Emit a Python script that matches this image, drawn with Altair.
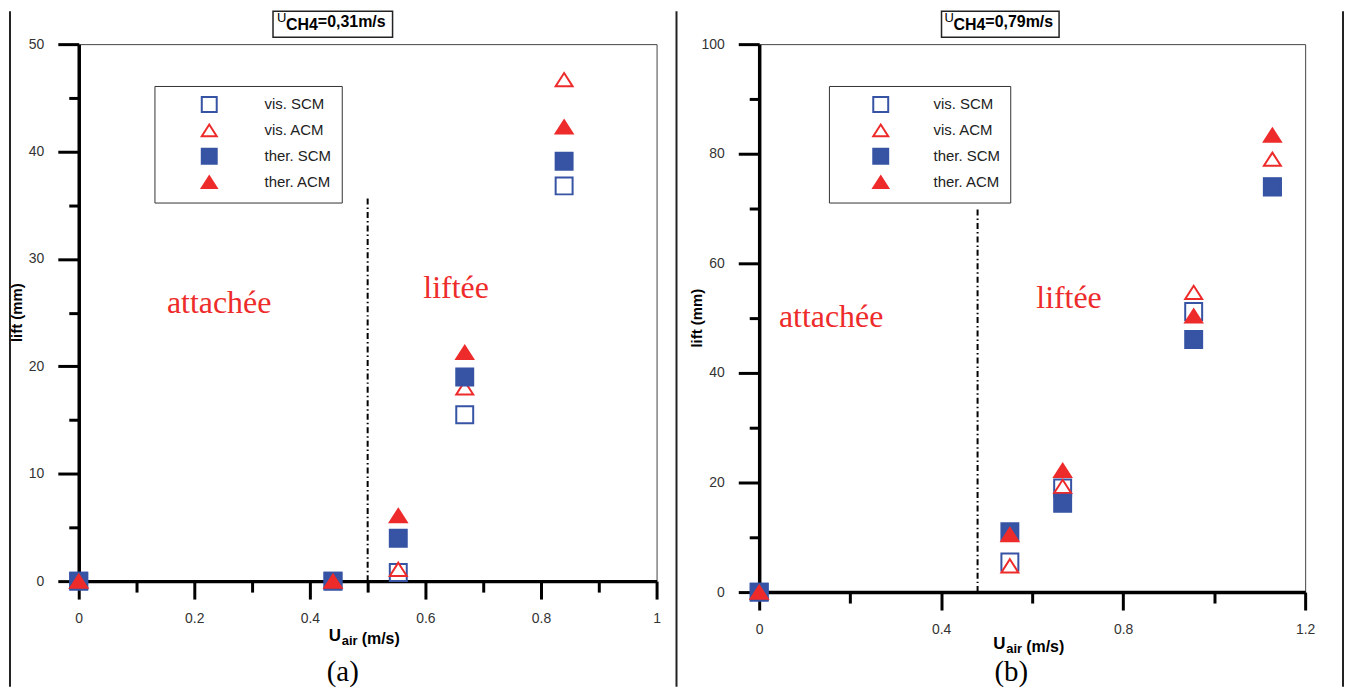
import json
import altair as alt
import pandas as pd

SERIES = ["vis. SCM", "vis. ACM", "ther. SCM", "ther. ACM"]
BLUE = "#3653A4"
RED = "#EE2B2B"
SQ = "square"
TRI = "M0,-0.78L1,0.78L-1,0.78Z"

# ---- panel (a) : U_CH4 = 0.31 m/s
xa = [0, 0.44, 0.553, 0.668, 0.840]
vis_scm_a = [0, 0, 0.8, 15.5, 36.8]
vis_acm_a = [0, 0, 1.1, 18.0, 46.7]
ther_scm_a = [0, 0, 4.0, 19.0, 39.1]
ther_acm_a = [0, 0, 6.1, 21.3, 42.3]
xticks_a = [0, 0.1, 0.2, 0.3, 0.4, 0.5, 0.6, 0.7, 0.8, 0.9, 1]
xlabels_a = [0, 0.2, 0.4, 0.6, 0.8, 1]
yticks_a = [0, 5, 10, 15, 20, 25, 30, 35, 40, 45, 50]
ylabels_a = [0, 10, 20, 30, 40, 50]
limit_a = [0.5, 0, 35.8]          # x, y-start, y-end of the dash-dot separator
notes_a = [["attachée", 0.243, 25.0], ["liftée", 0.653, 26.4]]

# ---- panel (b) : U_CH4 = 0.79 m/s
xb = [0, 0.551, 0.667, 0.955, 1.128]
vis_scm_b = [0, 5.5, 19.0, 51.2, 74.0]
vis_acm_b = [0, 4.8, 19.3, 54.7, 79.0]
ther_scm_b = [0, 11.0, 16.2, 46.1, 73.9]
ther_acm_b = [0, 10.5, 22.2, 50.4, 83.4]
xticks_b = [0, 0.2, 0.4, 0.6, 0.8, 1, 1.2]
xlabels_b = [0, 0.4, 0.8, 1.2]
yticks_b = [0, 10, 20, 30, 40, 50, 60, 70, 80, 90, 100]
ylabels_b = [0, 20, 40, 60, 80, 100]
limit_b = [0.48, 0, 70.0]
notes_b = [["attachée", 0.158, 48.4], ["liftée", 0.681, 51.8]]

ONE = pd.DataFrame({"k": [0]})
TOP = -33


def ptext(txt, x, y, size, weight="normal", font="Liberation Sans", color="black",
          align="left", baseline="alphabetic", angle=None):
    kw = dict(text=txt, fontSize=size, fontWeight=weight, font=font, color=color,
              align=align, baseline=baseline)
    if angle is not None:
        kw["angle"] = angle
    return alt.Chart(ONE).mark_text(**kw).encode(x=alt.value(x), y=alt.value(y))


def vrule(x, y1, y2, opacity=1):
    return alt.Chart(ONE).mark_rule(color="#222", strokeWidth=2, opacity=opacity).encode(
        x=alt.value(x), y=alt.value(y1), y2=alt.value(y2))


def make_axis(ticks, labels, major, minor, pad):
    lab = json.dumps(labels)
    return alt.Axis(
        title=None, values=ticks, grid=False,
        labelExpr=f"indexof({lab}, datum.value) >= 0 ? '' + datum.value : ''",
        tickSize={"condition": {"test": f"indexof({lab}, datum.value) < 0", "value": minor},
                  "value": major},
        labelPadding=pad, labelFlush=False, labelOverlap=False,
    )


def panel(p):
    W, H = p["W"], p["H"]
    rows = []
    for si, name in enumerate(SERIES):
        for xv, yv in zip(p["x"], p["vals"][si]):
            rows.append({"x": xv, "y": yv, "series": name})
    df = pd.DataFrame(rows)
    xs = alt.Scale(domain=p["xdom"], nice=False, zero=False)
    ys = alt.Scale(domain=p["ydom"], nice=False, zero=False)
    xax = make_axis(p["xticks"], p["xlabels"], 18, 11, 13)
    yax = make_axis(p["yticks"], p["ylabels"], 21, 10, 14)
    X = alt.X("x:Q", scale=xs, axis=xax)
    Y = alt.Y("y:Q", scale=ys, axis=yax)
    leg = alt.Legend(
        orient="none", legendX=p["legX"], legendY=42, title=None, padding=10,
        symbolOffset=p["symOff"], labelOffset=p["labOff"], rowPadding=4,
        strokeColor="#333", fillColor="white", symbolSize=225, symbolStrokeWidth=2,
        labelFont="Liberation Sans", labelFontSize=15, labelColor="#222",
    )
    pts = alt.Chart(df).mark_point(filled=True, opacity=1, strokeWidth=2, size=289).encode(
        x=X, y=Y,
        shape=alt.Shape("series:N", scale=alt.Scale(domain=SERIES, range=[SQ, TRI, SQ, TRI]),
                        legend=leg),
        fill=alt.Fill("series:N", scale=alt.Scale(domain=SERIES, range=["white", "white", BLUE, RED]),
                      legend=leg),
        stroke=alt.Stroke("series:N", scale=alt.Scale(domain=SERIES, range=[BLUE, RED, BLUE, RED]),
                          legend=leg),
    )
    lim = pd.DataFrame({"x": [p["limit"][0]], "y": [p["limit"][1]], "y2": [p["limit"][2]]})
    sep = alt.Chart(lim).mark_rule(color="black", strokeWidth=2, strokeDash=[6, 3, 1.5, 3]).encode(
        x=X, y=Y, y2="y2:Q")
    nd = pd.DataFrame(p["notes"], columns=["label", "x", "y"])
    notes = alt.Chart(nd).mark_text(font="Liberation Serif", fontSize=32, color=RED,
                                    align="center", baseline="alphabetic").encode(
        x=X, y=Y, text="label:N")

    bx0, bx1 = p["box"]
    box = alt.Chart(ONE).mark_rect(fill="white", stroke="#222", strokeWidth=1.5).encode(
        x=alt.value(bx0), x2=alt.value(bx1), y=alt.value(TOP), y2=alt.value(-7))
    tu, tc, tr = p["tpos"]
    xt0, xt1, xt2, xty = p["xt"]
    layers = [
        pts, sep, notes,
        *[vrule(fx, TOP, 645, op) for fx, op in p["frames"]],
        box,
        ptext("U", tu, -22, 13),
        ptext("CH4", tc, -14, 16, "bold"),
        ptext(p["tval"], tr, -17, 16, "bold"),
        ptext("lift (mm)", -62, H / 2, 15, "bold", align="center", baseline="middle", angle=270),
        ptext("U", xt0, H + xty, 17, "bold"),
        ptext("air", xt1, H + xty + 4, 13, "bold"),
        ptext("(m/s)", xt2, H + xty + 3, 16, "bold"),
        ptext(p["letter"], p["letx"], 639, 29, font="Liberation Serif", align="center"),
    ]
    return alt.layer(*layers).properties(width=W, height=H)


pa = dict(W=580, H=539, x=xa, vals=[vis_scm_a, vis_acm_a, ther_scm_a, ther_acm_a],
          xdom=[0, 1], ydom=[0, 50], xticks=xticks_a, xlabels=xlabels_a,
          yticks=yticks_a, ylabels=ylabels_a, limit=limit_a, notes=notes_a,
          legX=76, symOff=36.5, labOff=47, box=(195, 315), tpos=(199, 208, 240),
          tval="=0,31m/s", frames=[(-69, 1), (600, 1)], xt=(251, 264, 284, 60),
          letter="(a)", letx=265)
pb = dict(W=548, H=550, x=xb, vals=[vis_scm_b, vis_acm_b, ther_scm_b, ther_acm_b],
          xdom=[0, 1.2], ydom=[0, 100], xticks=xticks_b, xlabels=xlabels_b,
          yticks=yticks_b, ylabels=ylabels_b, limit=limit_b, notes=notes_b,
          legX=70, symOff=33.5, labOff=44.5, box=(183, 301), tpos=(186, 195, 227),
          tval="=0,79m/s", frames=[(-80, 0), (586, 1)], xt=(235, 248, 268, 57),
          letter="(b)", letx=253)

chart = alt.hconcat(panel(pa), panel(pb), spacing=0).properties(
    padding=0, background="white"
).resolve_scale(
    x="independent", y="independent", shape="independent", fill="independent", stroke="independent"
).resolve_legend(
    shape="independent", fill="independent", stroke="independent"
).configure_view(
    stroke="#444", strokeWidth=1
).configure_axis(
    domainColor="black", domainWidth=3.5, tickColor="black", tickWidth=3,
    labelFont="Liberation Sans", labelFontSize=14, labelColor="#333",
)

chart.save("out.html", embed_options={"renderer": "svg", "actions": False})
